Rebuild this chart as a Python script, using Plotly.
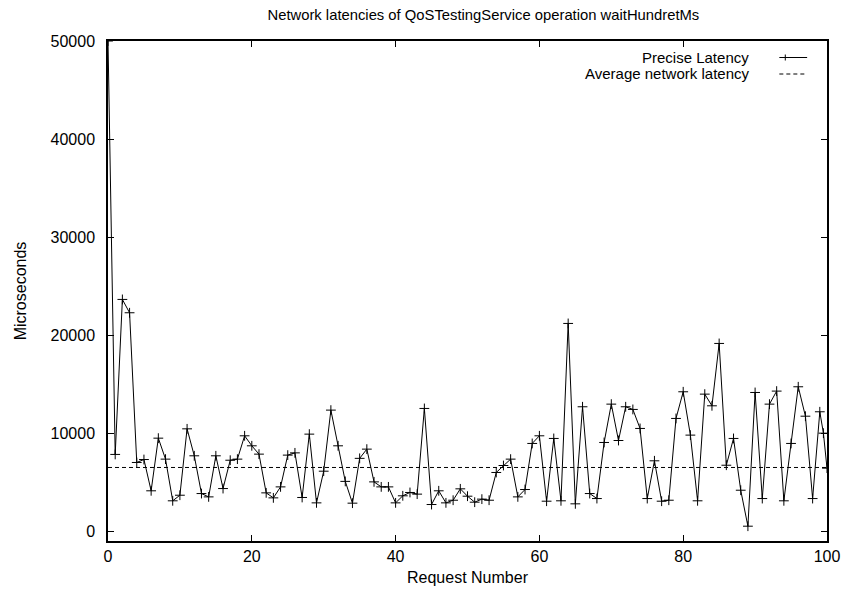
import plotly.graph_objects as go

request_number = list(range(0, 100)) + [99.5, 100]
latency = [
    50000, 7830, 23640, 22280, 7010, 7310, 4120, 9490, 7350, 3100,
    3670, 10440, 7690, 3840, 3500, 7690, 4350, 7240, 7350, 9730,
    8710, 7860, 3910, 3400, 4520, 7760, 7990, 3440, 9900, 2890,
    6120, 12350, 8710, 5080, 2860, 7430, 8370, 5030, 4520, 4520,
    2890, 3610, 3950, 3780, 12520, 2720, 4120, 2890, 3160, 4320,
    3570, 2960, 3270, 3160, 5990, 6700, 7350, 3500, 4250, 8950,
    9730, 3060, 9460, 3100, 21190, 2790, 12690, 3840, 3330, 9050,
    12960, 9250, 12690, 12420, 10480, 3330, 7180, 3060, 3160, 11500,
    14220, 9800, 3100, 13980, 12790, 19150, 6730, 9460, 4180, 510,
    14150, 3330, 12960, 14290, 3100, 8950, 14730, 11730, 3330, 12180,
    10000, 6430,
]
average_latency = 6500
x_ticks = [0, 20, 40, 60, 80, 100]
y_ticks = [0, 10000, 20000, 30000, 40000, 50000]
y_tick_labels = ["0", "10000", "20000", "30000", "40000", "50000"]

FONT = "Liberation Sans, Arial, sans-serif"

fig = go.Figure()
fig.add_trace(go.Scatter(
    x=request_number, y=latency, mode="lines+markers",
    line=dict(color="black", width=1),
    marker=dict(symbol="cross-thin", size=7, line=dict(color="black", width=1)),
    showlegend=False, cliponaxis=True,
))
fig.add_trace(go.Scatter(
    x=[0, 100], y=[average_latency, average_latency], mode="lines",
    line=dict(color="black", width=1, dash="4px,3px"),
    showlegend=False,
))

# plot area in pixels: left 108, right 832, top 41, bottom 541
L, R, T, B = 108, 832, 41, 541
W, H = R - L, B - T
def px(x):
    return (x - L) / W
def py(y):
    return (B - y) / H

legend_rows = [("Precise Latency", 57.5, "solid"), ("Average network latency", 74.0, "4px,3px")]
annotations = []
shapes = []
for text, yy, dash in legend_rows:
    annotations.append(dict(
        x=px(754), y=py(yy), xref="paper", yref="paper", text=text,
        showarrow=False, xanchor="right", yanchor="middle", borderpad=0,
        font=dict(family=FONT, size=15, color="black"),
    ))
    shapes.append(dict(
        type="line", xref="paper", yref="paper",
        x0=px(784), x1=px(812), y0=py(yy), y1=py(yy),
        line=dict(color="black", width=1, dash=dash),
    ))
shapes.append(dict(
    type="line", xref="paper", yref="paper",
    x0=px(790), x1=px(790), y0=py(57.5 - 3), y1=py(57.5 + 3),
    line=dict(color="black", width=1),
))

axis_common = dict(
    showline=True, linecolor="black", linewidth=1.5, mirror="allticks",
    ticks="inside", ticklen=6, tickcolor="black", tickwidth=1,
    showgrid=False, zeroline=False,
    tickfont=dict(family=FONT, size=16, color="black"),
)

fig.update_layout(
    width=852, height=596,
    margin=dict(l=L, r=852 - R, t=T, b=596 - B),
    paper_bgcolor="white", plot_bgcolor="white",
    title=dict(
        text="Network latencies of QoSTestingService operation waitHundretMs",
        x=px(486), xref="paper", xanchor="center",
        y=1 - 15 / 596, yref="container", yanchor="middle",
        font=dict(family=FONT, size=14.8, color="black"),
    ),
    xaxis=dict(range=[0, 100], tickvals=x_ticks,
               title=dict(text="Request Number", standoff=8,
                          font=dict(family=FONT, size=16, color="black")),
               **axis_common),
    yaxis=dict(range=[-1000, 50000], tickvals=y_ticks, ticktext=y_tick_labels,
               ticklabelstandoff=8,
               title=dict(text="Microseconds", standoff=20,
                          font=dict(family=FONT, size=16, color="black")),
               **axis_common),
    annotations=annotations, shapes=shapes,
)
fig.write_html("out.html")
